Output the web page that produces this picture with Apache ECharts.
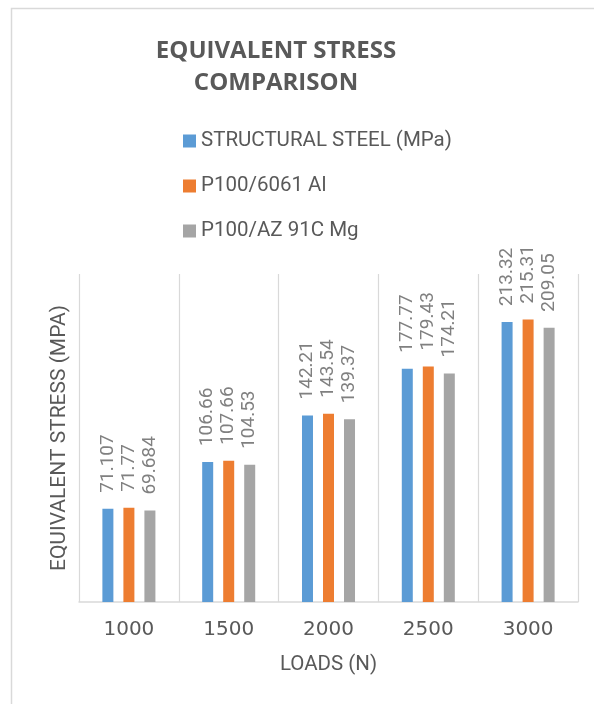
<!DOCTYPE html>
<html>
<head>
<meta charset="utf-8">
<script src="https://cdn.jsdelivr.net/npm/echarts@6/dist/echarts.min.js"></script>
<style>
  html, body { margin: 0; padding: 0; background: #fff; }
  #chart { width: 594px; height: 704px; }
</style>
</head>
<body>
<div id="chart"></div>
<script>
// Load cases and equivalent stress results per material
const loads = ['1000', '1500', '2000', '2500', '3000'];
const seriesNames = ['STRUCTURAL STEEL (MPa)', 'P100/6061 Al', 'P100/AZ 91C Mg'];
const steel = [71.107, 106.66, 142.21, 177.77, 213.32];
const al6061 = [71.77, 107.66, 143.54, 179.43, 215.31];
const mgAz91c = [69.684, 104.53, 139.37, 174.21, 209.05];
const colors = ['#5B9BD5', '#ED7D31', '#A5A5A5'];

const chart = echarts.init(document.getElementById('chart'));

function barSeries(name, data, color) {
  return {
    name: name,
    type: 'bar',
    data: data,
    barWidth: 11,
    barGap: '91%',
    itemStyle: { color: color },
    label: {
      show: true,
      position: 'top',
      rotate: 90,
      align: 'left',
      verticalAlign: 'middle',
      distance: 16,
      fontFamily: 'Roboto',
      fontSize: 19,
      color: '#808080',
      formatter: (p) => String(p.value)
    }
  };
}

chart.setOption({
  animation: false,
  color: colors,
  graphic: [{
    type: 'rect',
    shape: { x: 11.5, y: 8.5, width: 700, height: 800 },
    style: { fill: 'none', stroke: '#d9d9d9', lineWidth: 1.5 },
    silent: true
  }],
  title: {
    text: 'EQUIVALENT STRESS\nCOMPARISON',
    left: 271,
    textAlign: 'center',
    top: 30,
    textStyle: {
      fontFamily: 'Open Sans',
      fontWeight: 'bold',
      fontSize: 24,
      lineHeight: 32,
      color: '#595959'
    }
  },
  legend: {
    orient: 'vertical',
    left: 178,
    top: 125,
    itemWidth: 13,
    itemHeight: 13,
    itemGap: 23,
    icon: 'rect',
    data: seriesNames,
    textStyle: {
      fontFamily: 'Roboto',
      fontSize: 20.5,
      lineHeight: 22,
      color: '#595959'
    }
  },
  grid: { left: 79, right: 16, top: 274, bottom: 102 },
  xAxis: {
    type: 'category',
    data: loads,
    name: 'LOADS (N)',
    nameLocation: 'middle',
    nameGap: 52,
    nameTextStyle: { fontFamily: 'Roboto', fontSize: 20.5, color: '#595959' },
    axisLine: { lineStyle: { color: '#d9d9d9', width: 1.5 } },
    axisTick: { show: false },
    axisLabel: { margin: 18, fontFamily: 'DejaVu Sans', fontSize: 20, color: '#595959' },
    splitLine: { show: true, lineStyle: { color: '#d9d9d9', width: 1.2 } }
  },
  yAxis: {
    type: 'value',
    min: 0,
    max: 250,
    interval: 50,
    name: 'EQUIVALENT STRESS (MPA)',
    nameLocation: 'middle',
    nameRotate: 90,
    nameGap: 9,
    nameTextStyle: { fontFamily: 'Roboto', fontSize: 21, color: '#595959' },
    axisLine: { show: false },
    axisTick: { show: false },
    axisLabel: { show: false },
    splitLine: { show: false }
  },
  series: [
    barSeries(seriesNames[0], steel, colors[0]),
    barSeries(seriesNames[1], al6061, colors[1]),
    barSeries(seriesNames[2], mgAz91c, colors[2])
  ]
});
</script>
</body>
</html>
